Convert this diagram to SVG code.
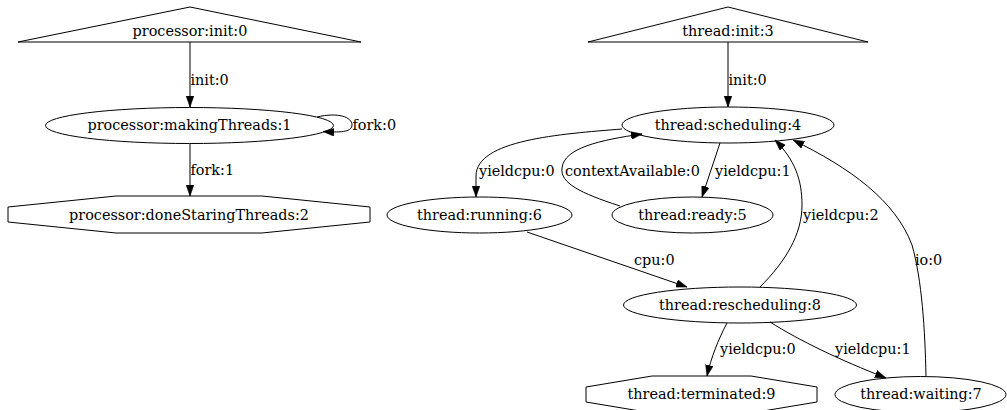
<svg xmlns="http://www.w3.org/2000/svg" width="1007" height="410" viewBox="0 0 1007 410">
  <style>
    .node { fill: none; stroke: #000; stroke-width: 1; }
    .edge { fill: none; stroke: #000; stroke-width: 1; marker-end: url(#arrow); }
    text { font-family: "DejaVu Serif", "Liberation Serif", serif; font-size: 14.4px; fill: #000; }
    .c { text-anchor: middle; }
  </style>
  <defs>
    <marker id="arrow" markerUnits="userSpaceOnUse" markerWidth="11" markerHeight="8" viewBox="0 0 10 7" refX="10" refY="3.5" orient="auto">
      <path d="M0,0 L10,3.5 L0,7 z" fill="#000" stroke="#000" stroke-width="0.5"/>
    </marker>
  </defs>
  <rect width="1007" height="410" fill="#fff"/>

  <!-- connectors -->
  <g id="edges">
    <path class="edge" d="M190,42 L190,107"/>
    <text x="190.5" y="84.5">init:0</text>
    <path class="edge" d="M317,117 C338,112 352,117 352,125 C352,131 344,133 323,131.5"/>
    <text x="352.5" y="130">fork:0</text>
    <path class="edge" d="M190,144 L190,196"/>
    <text x="190.5" y="175">fork:1</text>

    <path class="edge" d="M728,42 L728,107"/>
    <text x="728.5" y="84.5">init:0</text>
    <path class="edge" d="M622,129 C560,134 476,140 476,176 L476,197"/>
    <text x="479" y="175.5">yieldcpu:0</text>
    <path class="edge" d="M620,206 C580,193 560,183 562,168 C564,148 600,140 642,134"/>
    <text x="565" y="175.5">contextAvailable:0</text>
    <path class="edge" d="M720,143 L702,197"/>
    <text x="715" y="175.5">yieldcpu:1</text>
    <path class="edge" d="M527,232 L687,287"/>
    <text x="634" y="264.5">cpu:0</text>
    <path class="edge" d="M760,287 C785,262 802,235 802,205 C802,180 795,160 775,140"/>
    <text x="803" y="219.5">yieldcpu:2</text>
    <path class="edge" d="M926,376 C925,330 922,280 912,245 C895,200 850,168 793,140"/>
    <text x="915" y="264.5">io:0</text>
    <path class="edge" d="M727,323 C718,340 711,358 707,376"/>
    <text x="720" y="353.5">yieldcpu:0</text>
    <path class="edge" d="M770,322 C800,341 840,360 886,378"/>
    <text x="835" y="353.5">yieldcpu:1</text>
  </g>

  <!-- processor machine -->
  <g id="processor_init_0">
    <polygon class="node" points="190,7 361,42 18,42"/>
    <text class="c" x="190" y="35.5">processor:init:0</text>
  </g>
  <g id="processor_makingThreads_1">
    <ellipse class="node" cx="189.5" cy="125.5" rx="144" ry="18"/>
    <text class="c" x="189.5" y="130">processor:makingThreads:1</text>
  </g>
  <g id="processor_doneStaringThreads_2">
    <polygon class="node" points="8,207 116,196 262,196 370,207 370,222 262,233 116,233 8,222"/>
    <text class="c" x="189" y="219.5">processor:doneStaringThreads:2</text>
  </g>

  <!-- thread machine -->
  <g id="thread_init_3">
    <polygon class="node" points="728,7 868,42 588,42"/>
    <text class="c" x="728" y="35.5">thread:init:3</text>
  </g>
  <g id="thread_scheduling_4">
    <ellipse class="node" cx="728" cy="125" rx="106" ry="18"/>
    <text class="c" x="728" y="129.5">thread:scheduling:4</text>
  </g>
  <g id="thread_running_6">
    <ellipse class="node" cx="479.5" cy="215" rx="92.5" ry="18"/>
    <text class="c" x="479.5" y="219.5">thread:running:6</text>
  </g>
  <g id="thread_ready_5">
    <ellipse class="node" cx="692.5" cy="215" rx="80.5" ry="18"/>
    <text class="c" x="692.5" y="219.5">thread:ready:5</text>
  </g>
  <g id="thread_rescheduling_8">
    <ellipse class="node" cx="740" cy="305" rx="116.5" ry="18"/>
    <text class="c" x="740" y="309.5">thread:rescheduling:8</text>
  </g>
  <g id="thread_terminated_9">
    <polygon class="node" points="586,387 652,376 751,376 817,387 817,402 751,413 652,413 586,402"/>
    <text class="c" x="701.5" y="399">thread:terminated:9</text>
  </g>
  <g id="thread_waiting_7">
    <ellipse class="node" cx="920.5" cy="394.5" rx="85.5" ry="18"/>
    <text class="c" x="921" y="399">thread:waiting:7</text>
  </g>
</svg>
